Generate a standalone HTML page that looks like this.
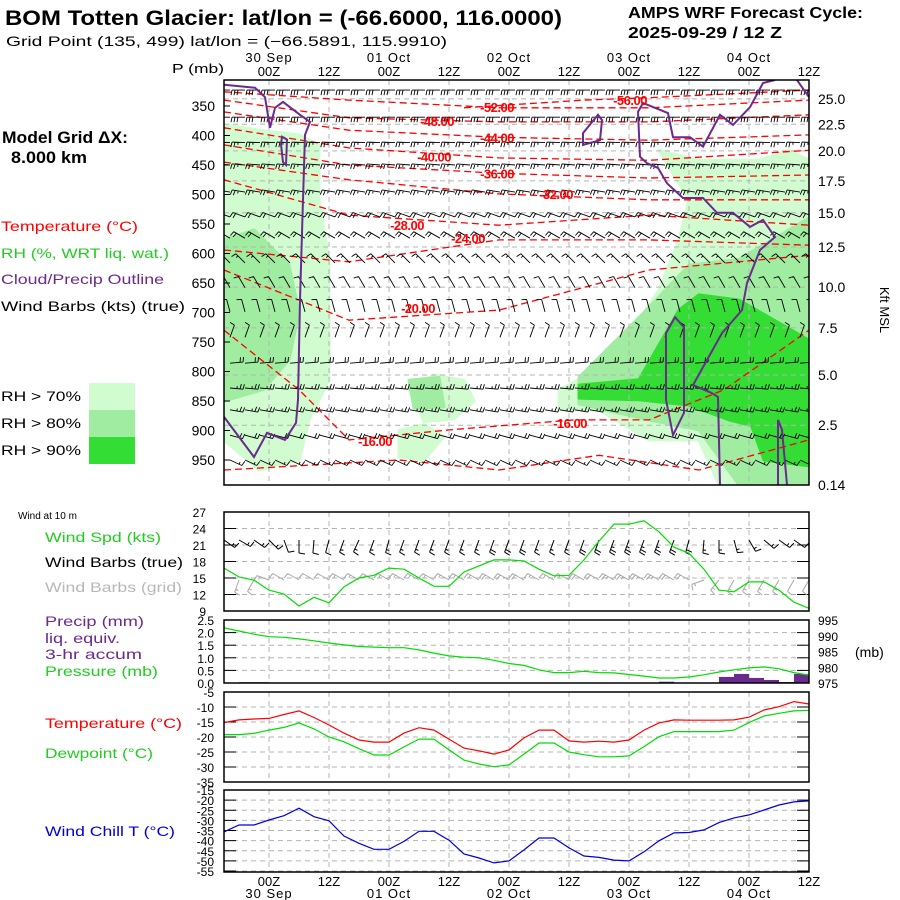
<!DOCTYPE html>
<html><head><meta charset="utf-8"><title>AMPS meteogram</title>
<style>
html,body{margin:0;padding:0;background:#fff;}
svg{display:block;font-family:"Liberation Sans",sans-serif;}
.bold{font-weight:bold;}
</style></head>
<body>
<svg id="chart" width="900" height="900" viewBox="0 0 900 900" xmlns="http://www.w3.org/2000/svg">
<defs><clipPath id="mainclip"><rect x="224" y="80" width="585" height="405"/></clipPath>
<clipPath id="wclip"><rect x="224" y="512" width="585" height="99"/></clipPath></defs>
<rect x="0" y="0" width="900" height="900" fill="#fff"/>
<text x="5" y="25" class="bold" font-size="21" textLength="557" lengthAdjust="spacingAndGlyphs">BOM Totten Glacier:  lat/lon = (-66.6000, 116.0000)</text>
<text x="6" y="46" font-size="14" textLength="441" lengthAdjust="spacingAndGlyphs">Grid Point (135, 499) lat/lon = (−66.5891, 115.9910)</text>
<text x="628" y="18" class="bold" font-size="16" textLength="235" lengthAdjust="spacingAndGlyphs">AMPS WRF Forecast Cycle:</text>
<text x="628" y="38" class="bold" font-size="16" textLength="154" lengthAdjust="spacingAndGlyphs">2025-09-29 / 12  Z</text>
<text x="2" y="143" class="bold" font-size="17" textLength="126" lengthAdjust="spacingAndGlyphs">Model Grid ΔX:</text>
<text x="11" y="163" class="bold" font-size="17" textLength="76" lengthAdjust="spacingAndGlyphs">8.000 km</text>
<g font-size="14">
<text x="1" y="231" fill="#ff0000" textLength="137" lengthAdjust="spacingAndGlyphs">Temperature (°C)</text>
<text x="1" y="258" fill="#22cc22" textLength="168" lengthAdjust="spacingAndGlyphs">RH (%, WRT liq. wat.)</text>
<text x="1" y="284" fill="#6a2a8e" textLength="163" lengthAdjust="spacingAndGlyphs">Cloud/Precip Outline</text>
<text x="1" y="311" fill="#000" textLength="184" lengthAdjust="spacingAndGlyphs">Wind Barbs (kts) (true)</text>
<text x="1" y="401" textLength="80" lengthAdjust="spacingAndGlyphs">RH &gt; 70%</text>
<text x="1" y="428" textLength="80" lengthAdjust="spacingAndGlyphs">RH &gt; 80%</text>
<text x="1" y="455" textLength="80" lengthAdjust="spacingAndGlyphs">RH &gt; 90%</text>
<rect x="89" y="383" width="46" height="27" fill="#d0fcd0"/>
<rect x="89" y="410" width="46" height="27" fill="#a0eca0"/>
<rect x="89" y="437" width="46" height="27" fill="#33dd33"/>
</g>
<text x="172" y="73" font-size="13" textLength="52" lengthAdjust="spacingAndGlyphs">P (mb)</text>
<text x="880" y="310" font-size="13" transform="rotate(90 880 310)" text-anchor="middle">Kft MSL</text>
<g font-size="14">
<text x="18" y="519" font-size="10">Wind at 10 m</text>
<text x="45" y="542" fill="#22cc22" textLength="116" lengthAdjust="spacingAndGlyphs">Wind Spd (kts)</text>
<text x="45" y="567" fill="#000" textLength="138" lengthAdjust="spacingAndGlyphs">Wind Barbs (true)</text>
<text x="45" y="592" fill="#b8b8b8" textLength="137" lengthAdjust="spacingAndGlyphs">Wind Barbs (grid)</text>
<text x="45" y="626" fill="#6a2a8e" textLength="99" lengthAdjust="spacingAndGlyphs">Precip (mm)</text>
<text x="45" y="643" fill="#6a2a8e" textLength="75" lengthAdjust="spacingAndGlyphs">liq. equiv.</text>
<text x="45" y="659" fill="#6a2a8e" textLength="97" lengthAdjust="spacingAndGlyphs">3-hr accum</text>
<text x="45" y="676" fill="#22cc22" textLength="113" lengthAdjust="spacingAndGlyphs">Pressure (mb)</text>
<text x="45" y="728" fill="#ff0000" textLength="137" lengthAdjust="spacingAndGlyphs">Temperature (°C)</text>
<text x="45" y="758" fill="#22cc22" textLength="108" lengthAdjust="spacingAndGlyphs">Dewpoint (°C)</text>
<text x="45" y="836" fill="#0000dd" textLength="130" lengthAdjust="spacingAndGlyphs">Wind Chill T (°C)</text>
<text x="855" y="657" fill="#000">(mb)</text>
</g>
<g id="plot"></g>
</svg>
<script>
// ---------- data ----------
const hours = [0,3,6,9,12,15,18,21,24,27,30,33,36,39,42,45,48,51,54,57,60,63,66,69,72,75,78,81,84,87,90,93,96,99,102,105,108,111,114,117];
const hourLabels = ["00Z","12Z","00Z","12Z","00Z","12Z","00Z","12Z","00Z","12Z"];
const hourLabelHours = [9,21,33,45,57,69,81,93,105,117];
const dateLabels = ["30 Sep","01 Oct","02 Oct","03 Oct","04 Oct"];
const dateLabelHours = [9,33,57,81,105];
const windSpd = [16.8,15.2,14.6,12.8,12.1,9.9,11.5,10.5,13.4,15,15.5,16.8,16.6,15,13.5,13.5,16.1,17.2,18.3,18.3,18.1,16.6,15.4,15.5,18.3,21.7,24.8,24.8,25.4,23.4,20.6,19.5,16.6,12.8,12.5,14.3,14.3,12.8,10.6,9.5];
const windDir = [125,120,125,135,160,180,185,195,200,205,200,195,200,200,200,200,200,200,200,200,200,200,200,200,200,200,200,200,200,200,200,195,185,180,165,150,130,125,125,120];
const gridDir = [200,200,210,290,300,300,300,300,300,300,300,300,300,300,300,300,300,300,300,300,300,300,300,300,300,300,300,300,300,300,300,300,250,220,210,210,210,210,210,210];
const pressure = [992.5,991.5,990.5,989.7,989.5,989,988.4,987.7,987.1,986.6,986.4,986.2,986.2,985.5,984.5,983.6,983.2,983,982.2,981.2,980.6,979.2,978.3,978.3,978.7,978.3,978.2,977.7,977.2,976.6,976.6,976.9,977.6,978.5,979.2,979.8,980.1,979.5,978.3,977.5];
const precip = [0,0,0.03,0.03,0,0,0,0,0,0,0,0,0,0,0,0,0,0,0,0,0,0,0,0,0,0,0,0,0,0,0.05,0,0,0,0.24,0.36,0.2,0.12,0.04,0.36];
const temp = [-15.2,-14.3,-14,-13.8,-12.5,-11.3,-13.5,-16,-18.7,-21,-21.7,-21.7,-18.7,-16.9,-17.7,-20.7,-23.7,-24.6,-25.7,-24.3,-20.3,-17.7,-17.7,-21.3,-21.7,-21.4,-21.7,-21,-17.7,-15.3,-14.3,-14.4,-14.4,-14.4,-14.3,-13.4,-11,-9.9,-8.2,-9];
const dewpt = [-19.2,-19.2,-18.8,-17.7,-16.8,-15.3,-17.3,-20,-21.6,-23.9,-26,-26,-23.3,-20.7,-20.7,-24.3,-27.7,-29,-29.9,-29.3,-25.7,-22,-22,-25,-25.9,-26.6,-26.6,-26.3,-23.2,-19.9,-18.2,-18.2,-18.2,-18.2,-17.7,-15.2,-13,-12.1,-11.3,-11.1];
const windChill = [-35.7,-32.3,-32.3,-29.8,-27.7,-24,-28.2,-30.2,-37.7,-41.3,-44.3,-44.3,-40.4,-35.4,-35.4,-39.8,-46.6,-48.6,-51,-50,-44.6,-38.7,-38.7,-43.6,-47.6,-48.3,-49.6,-50,-45.5,-40.1,-36.2,-36,-34.7,-31.1,-28.8,-27.3,-24.9,-22.4,-20.9,-20.4];
// main panel
const pLevels = [350,400,450,500,550,600,650,700,750,800,850,900,950];
const kftLabels = ["25.0","22.5","20.0","17.5","15.0","12.5","10.0","7.5","5.0","2.5"];
const kftP = [338,381,426,477,531,589,657,726,806,891];
const barbLevels = [323,369,412,450,496,538,574,616,658,699,742,786,828,865,908,950];
const barbLevelDir = [270,270,272,275,280,290,300,315,330,345,20,85,95,100,105,115];
const barbLevelSpd = [30,30,25,25,25,20,20,15,12,10,8,20,25,25,20,15];
const tempContourLabels = ["-56.00","-52.00","-48.00","-44.00","-40.00","-36.00","-32.00","-28.00","-24.00","-20.00","-16.00","-16.00"];
const tempLabelH = [81.2,54.6,42.6,54.6,42,54.6,66.4,36.6,48.8,38.8,30.2,69.2];
const tempLabelP = [340,352,375,403,436,464,499,552,574,692,918,887];
const contourH5 = [0,25,55,85,117];
const cm56 = {h:[48,72,85,117], p:[353,340,336,323]};
const cm52 = [326,340,353,353,340];
const cm48 = [340,370,377,377,365];
const cm44 = [360,391,403,408,399];
const cm40 = [387,421,438,442,425];
const cm36 = [416,450,464,472,467];
const cm32 = [445,475,499,509,509];
const cm28 = [475,535,552,535,552];
const cm24 = [594,614,577,577,586];
const cm20 = [628,713,696,628,603];
const cm16 = {h:[0,15,25,45,70,85,100,117], p:[730,831,916,899,882,882,831,730]};
const cm12 = {h:[0,35,55,75,95,117], p:[967,950,967,942,967,916]};
// RH regions [hour, hPa]
const rh70 = [
 [[0,382],[7,391],[15,399],[19,416],[19,509],[21,611],[21,814],[17,882],[15,950],[7,967],[0,916]],
 [[37,830],[42,806],[48,815],[50,850],[46,880],[40,885]],
 [[35,900],[40,890],[44,910],[40,950],[35,945]],
 [[67,831],[75,797],[83,713],[87,662],[91,577],[93,509],[87,425],[95,442],[107,442],[113,425],[117,442],[117,992],[99,992],[95,916],[85,916],[75,865],[67,865]]
];
const rh80 = [
 [[0,577],[6,560],[13,620],[15,700],[13,780],[8,830],[0,850]],
 [[37,815],[43,810],[44,860],[38,862]],
 [[71,810],[84,700],[93,620],[103,610],[117,540],[117,992],[103,992],[95,899],[85,882],[71,855]]
];
const rh90 = [
 [[71,823],[83,814],[91,696],[95,670],[103,679],[117,747],[117,874],[109,899],[101,882],[93,857],[83,848],[71,845]],
 [[105,880],[117,870],[117,960],[108,950]]
];
const cloudOutlines = [
 {closed:false, pts:[[0,314],[6.2,319],[8.2,335],[9.2,387],[10.2,353],[11.8,343],[15.2,365],[17.2,377],[16.2,399],[15.8,509],[15.2,679],[14.8,848],[14.4,887],[12.2,916],[8.6,904],[6,945],[0,877]]},
 {closed:true, pts:[[11.6,402],[12.6,407],[12.4,450],[11.8,445],[11.4,415]]},
 {closed:false, pts:[[110.2,306],[107.8,311],[105.2,352],[101.8,382],[99.2,365],[95.8,419],[93.2,403],[89.8,403],[88.8,362],[86.2,353],[83.8,345],[82.8,360],[83.2,436],[84.6,447],[86.8,455],[88.6,481],[91.8,506],[95.8,506],[98.6,531],[101.8,531],[105.2,555],[107.8,543],[110.2,572],[107.2,594],[104.6,650],[103.6,696],[99.6,735],[93.8,823],[97.4,836],[98.8,843],[99.2,992]]},
 {closed:false, pts:[[114.6,306],[117,335]]},
 {closed:true, pts:[[71.8,396],[74.8,365],[75.6,374],[75.2,408],[71.8,416]]},
 {closed:true, pts:[[90.2,708],[92,725],[92,870],[89.8,908],[88.4,848],[88.4,735]]},
 {closed:false, pts:[[110.8,992],[110.8,882],[111.6,899],[112.6,992]]}
];
const wsTicks = [27,24,21,18,15,12,9];
const pcTicks = ["2.5","2.0","1.5","1.0","0.5","0.0"];
const prTicks = [995,990,985,980,975];
const tTicks = [-5,-10,-15,-20,-25,-30,-35];
const wcTicks = [-15,-20,-25,-30,-35,-40,-45,-50,-55];

// ---------- axes ----------
const xH = h => 224 + h*5;
const yP = p => 106 + (p-350)*0.59;
const yWS = v => 611 - (v-9)*5.5;
const yPr = mb => 683 - (mb-975)*3.15;
const yPc = mm => 683 - mm*25.2;
const yT = t => 692 + (-5 - t)*3;
const yWC = t => 790 + (-15 - t)*2.025;

const NS = "http://www.w3.org/2000/svg";
const root = document.getElementById("plot");
function mk(parent, tag, attrs, text){
  const e = document.createElementNS(NS, tag);
  for (const k in attrs) e.setAttribute(k, attrs[k]);
  if (text !== undefined) e.textContent = text;
  parent.appendChild(e);
  return e;
}
function grp(parent, extra){ return mk(parent, "g", extra||{}); }
function line(parent,x1,y1,x2,y2,st){ return mk(parent,"line",Object.assign({x1:x1,y1:y1,x2:x2,y2:y2},st)); }
function ptsStr(arr, fx, fy){ return arr.map(q=>fx(q[0]).toFixed(1)+","+fy(q[1]).toFixed(1)).join(" "); }

function barbPath(x, y, dir, spd, len, fl){
  const r = dir*Math.PI/180, ux = Math.sin(r), uy = -Math.cos(r);
  const px = uy, py = -ux;
  const tx = x+ux*len, ty = y+uy*len;
  let d = "M"+x.toFixed(1)+","+y.toFixed(1)+"L"+tx.toFixed(1)+","+ty.toFixed(1);
  let s = Math.round(spd/5)*5, k = 0;
  while (s >= 50){ const ax=tx-ux*k*3, ay=ty-uy*k*3, bx=tx-ux*(k*3+4), by=ty-uy*(k*3+4);
    d += "M"+ax.toFixed(1)+","+ay.toFixed(1)+"L"+(ax+px*fl).toFixed(1)+","+(ay+py*fl).toFixed(1)+"L"+bx.toFixed(1)+","+by.toFixed(1); s-=50; k+=2; }
  while (s >= 10){ const ax=tx-ux*k*3, ay=ty-uy*k*3;
    d += "M"+ax.toFixed(1)+","+ay.toFixed(1)+"L"+(ax+px*fl+ux*1).toFixed(1)+","+(ay+py*fl+uy*1).toFixed(1); s-=10; k+=1; }
  if (s >= 5){ if(k===0) k=1; const ax=tx-ux*k*3, ay=ty-uy*k*3;
    d += "M"+ax.toFixed(1)+","+ay.toFixed(1)+"L"+(ax+px*fl*0.5).toFixed(1)+","+(ay+py*fl*0.5).toFixed(1); }
  return d;
}

const gridSt = {stroke:"#b4b4b4","stroke-width":1,"stroke-dasharray":"5,4"};

// ---------- main panel ----------
const main = grp(root, {"clip-path":"url(#mainclip)"});


const rhFills = [[rh70,"#d0fcd0","rh70-region"],[rh80,"#a0eca0","rh80-region"],[rh90,"#33dd33","rh90-region"]];
rhFills.forEach(f => f[0].forEach(poly => {
  const e = mk(main, "polygon", {points: ptsStr(poly, xH, yP), fill: f[1], stroke: f[1], "stroke-width": 3, "stroke-linejoin":"round"});
  
  
}));
kftP.forEach(p => { const e = line(main,224,yP(p),809,yP(p),gridSt);
  
   });
hourLabelHours.forEach(h => { const e = line(main,xH(h),80,xH(h),485,gridSt);
  
   });
function contour(hs, ps){
  const e = mk(main, "polyline", {points: hs.map((h,i)=>xH(h).toFixed(1)+","+yP(ps[i]).toFixed(1)).join(" "), fill:"none", stroke:"#ff0000","stroke-width":1.3,"stroke-dasharray":"7,4"});
  
  
}
[cm52,cm48,cm44,cm40,cm36,cm32,cm28,cm24,cm20].forEach(ps => contour(contourH5, ps));
contour(cm56.h, cm56.p); contour(cm16.h, cm16.p); contour(cm12.h, cm12.p);
barbLevels.forEach((p, li) => {
  let d = "";
  hours.forEach(h => { d += barbPath(xH(h)+6, yP(p), barbLevelDir[li], barbLevelSpd[li], 13, 5); });
  const e = mk(main, "path", {d:d, fill:"none", stroke:"#000", "stroke-width":0.9});
  
  
});
cloudOutlines.forEach(o => {
  const e = mk(main, o.closed?"polygon":"polyline", {points: ptsStr(o.pts, xH, yP), fill:"none", stroke:"#6a2a8e", "stroke-width":2});
  
  
});
tempContourLabels.forEach((t,i) => {
  const e = mk(main, "text", {x:xH(tempLabelH[i]), y:yP(tempLabelP[i])+5, "text-anchor":"middle", fill:"#ff0000", "font-weight":"bold", "font-size":13, "letter-spacing":"-0.5"}, t);
  
  
});
const frame = mk(root, "rect", {x:224,y:80,width:585,height:405,fill:"none",stroke:"#000","stroke-width":1.5});


pLevels.forEach(p => {
  const e = mk(root, "text", {x:215, y:yP(p)+5, "text-anchor":"end", "font-size":14}, String(p));
  
  
  const tk = line(root, 224, yP(p), 230, yP(p), {stroke:"#000"});
  
  
});
kftLabels.forEach((l,i) => {
  const e = mk(root, "text", {x:818, y:yP(kftP[i])+5, "font-size":14}, l);
  
  
});
const k0 = mk(root, "text", {x:818, y:490, "font-size":14}, "0.14");


hourLabels.forEach((l,i) => {
  const a = mk(root, "text", {x:xH(hourLabelHours[i]), y:76, "text-anchor":"middle", "font-size":13}, l);
  
  
  const b = mk(root, "text", {x:xH(hourLabelHours[i]), y:886, "text-anchor":"middle", "font-size":13}, l);
  
  
});
dateLabels.forEach((l,i) => {
  const a = mk(root, "text", {x:xH(dateLabelHours[i]), y:62, "text-anchor":"middle", "font-size":13, "letter-spacing":"1"}, l);
  
  
  const b = mk(root, "text", {x:xH(dateLabelHours[i]), y:898, "text-anchor":"middle", "font-size":13, "letter-spacing":"1"}, l);
  
  
});

// ---------- lower panels ----------
function panel(y0, y1, name){
  const g = grp(root);
  
  
  hourLabelHours.slice(0,9).forEach(h => { const e = line(g, xH(h), y0, xH(h), y1, gridSt);
    
     });
  return g;
}
function hgrid(g, y, lab, lx, anchor){
  const e = line(g, 224, y, 809, y, gridSt);
  
  
  const t1 = line(g, 224, y, 236, y, {stroke:"#000"});
  
  
  const t2 = line(g, 797, y, 809, y, {stroke:"#000"});
  
  
  if (lab !== null){
    const t = mk(g, "text", {x:lx, y:y+5, "text-anchor":anchor, "font-size":12}, lab);
    
    
  }
}
function series(g, vals, fy, color, name){
  const e = mk(g, "polyline", {points: vals.map((v,i)=>xH(hours[i]).toFixed(1)+","+fy(v).toFixed(1)).join(" "), fill:"none", stroke:color, "stroke-width":1.2});
  
  
}
function box(g, y0, y1){
  const e = mk(g, "rect", {x:224, y:y0, width:585, height:y1-y0, fill:"none", stroke:"#000", "stroke-width":1.5});
  
  
}
const gW = panel(512, 611, "wind-panel");
wsTicks.forEach(v => hgrid(gW, yWS(v), String(v), 206, "end"));
const gWc = grp(gW, {"clip-path":"url(#wclip)"});
let dG = "", dB = "";
hours.forEach((h,i) => { dG += barbPath(xH(h), 580, gridDir[i], windSpd[i], 13, 6); });
hours.forEach((h,i) => { dB += barbPath(xH(h), 540, windDir[i], windSpd[i], 13, 6); });
const pG = mk(gWc, "path", {d:dG, fill:"none", stroke:"#a8a8a8", "stroke-width":1});


const pB = mk(gWc, "path", {d:dB, fill:"none", stroke:"#000", "stroke-width":1});


series(gW, windSpd, yWS, "#00dd00", "wind-speed-line");
box(gW, 512, 611);
const gP = panel(620, 683, "precip-pressure-panel");
pcTicks.forEach(v => hgrid(gP, yPc(parseFloat(v)), v, 214, "end"));
prTicks.forEach(v => { const t = mk(gP, "text", {x:818, y:yPr(v)+5, "font-size":12}, String(v));
  
   });
precip.forEach((v,i) => {
  if (v <= 0 || i === 0) return;
  const e = mk(gP, "rect", {x:xH(hours[i-1]), y:yPc(v), width:xH(hours[i])-xH(hours[i-1]), height:683-yPc(v), fill:"#6a2a8e"});
  
  
});
series(gP, pressure, yPr, "#00dd00", "pressure-line");
box(gP, 620, 683);
const gT = panel(692, 782, "temperature-panel");
tTicks.forEach(v => hgrid(gT, yT(v), String(v), 214, "end"));
series(gT, temp, yT, "#ff0000", "temperature-line");
series(gT, dewpt, yT, "#00dd00", "dewpoint-line");
box(gT, 692, 782);
const gC = panel(790, 872, "wind-chill-panel");
wcTicks.forEach(v => hgrid(gC, yWC(v), String(v), 214, "end"));
series(gC, windChill, yWC, "#0000dd", "wind-chill-line");
box(gC, 790, 872);
</script>
</body></html>
